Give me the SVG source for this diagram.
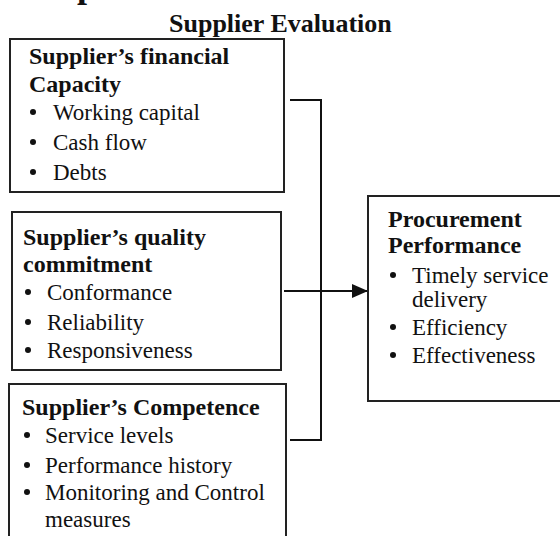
<svg xmlns="http://www.w3.org/2000/svg" width="560" height="536" viewBox="0 0 560 536">
  <style>
    .box { fill: #ffffff; stroke: #222222; stroke-width: 2; }
    .t { font-family: "Liberation Serif", "Times New Roman", serif; fill: #111111; }
    .h { font-size: 24px; font-weight: bold; }
    .b { font-size: 23px; }
    .title { font-size: 26px; font-weight: bold; }
    .conn { fill: none; stroke: #111111; stroke-width: 2; }
  </style>
  <defs>
    <marker id="arrow" markerWidth="16" markerHeight="14" refX="16" refY="7" orient="auto" markerUnits="userSpaceOnUse">
      <polygon points="0,0 16,7 0,14" fill="#111111"/>
    </marker>
  </defs>
  <rect width="560" height="536" fill="#ffffff"/>

  <text class="t" x="77" y="-3" font-size="36" font-weight="bold">p</text>
  <text class="t title" x="169" y="32">Supplier Evaluation</text>

  <g id="connectors">
    <polyline class="conn" points="290,100 321,100 321,440 290,440"/>
    <line class="conn" x1="284" y1="291" x2="368" y2="291" marker-end="url(#arrow)"/>
  </g>

  <g id="financial">
    <rect class="box" x="10" y="39" width="274" height="153"/>
    <text class="t h" x="29" y="64">Supplier’s financial</text>
    <text class="t h" x="29" y="92">Capacity</text>
    <circle cx="33" cy="112" r="3" fill="#111"/>
    <text class="t b" x="53" y="120">Working capital</text>
    <circle cx="33" cy="142" r="3" fill="#111"/>
    <text class="t b" x="53" y="150">Cash flow</text>
    <circle cx="33" cy="172" r="3" fill="#111"/>
    <text class="t b" x="53" y="180">Debts</text>
  </g>

  <g id="quality">
    <rect class="box" x="12" y="212" width="269" height="158"/>
    <text class="t h" x="23" y="245">Supplier’s quality</text>
    <text class="t h" x="23" y="272">commitment</text>
    <circle cx="28" cy="292" r="3" fill="#111"/>
    <text class="t b" x="47" y="300">Conformance</text>
    <circle cx="28" cy="322" r="3" fill="#111"/>
    <text class="t b" x="47" y="330">Reliability</text>
    <circle cx="28" cy="350" r="3" fill="#111"/>
    <text class="t b" x="47" y="358">Responsiveness</text>
  </g>

  <g id="competence">
    <rect class="box" x="9" y="384" width="277" height="165"/>
    <text class="t h" x="22" y="415">Supplier’s Competence</text>
    <circle cx="27" cy="435" r="3" fill="#111"/>
    <text class="t b" x="45" y="443">Service levels</text>
    <circle cx="27" cy="465" r="3" fill="#111"/>
    <text class="t b" x="45" y="473">Performance history</text>
    <circle cx="27" cy="492" r="3" fill="#111"/>
    <text class="t b" x="45" y="500">Monitoring and Control</text>
    <text class="t b" x="45" y="527">measures</text>
  </g>

  <g id="performance">
    <rect class="box" x="368" y="196" width="210" height="205"/>
    <text class="t h" x="388" y="227">Procurement</text>
    <text class="t h" x="388" y="253">Performance</text>
    <circle cx="393" cy="275" r="3" fill="#111"/>
    <text class="t b" x="412" y="283">Timely service</text>
    <text class="t b" x="412" y="307">delivery</text>
    <circle cx="393" cy="327" r="3" fill="#111"/>
    <text class="t b" x="412" y="335">Efficiency</text>
    <circle cx="393" cy="355" r="3" fill="#111"/>
    <text class="t b" x="412" y="363">Effectiveness</text>
  </g>
</svg>
